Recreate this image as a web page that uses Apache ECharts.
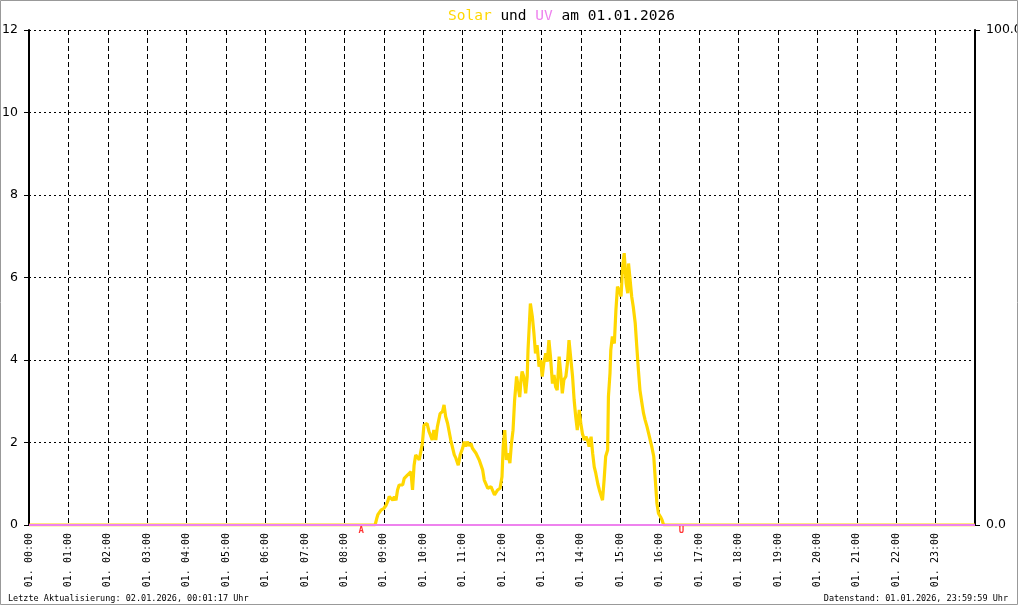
<!DOCTYPE html>
<html><head><meta charset="utf-8">
<script src="https://cdn.jsdelivr.net/npm/echarts@6/dist/echarts.min.js"></script>
<style>html,body{margin:0;padding:0;background:#fff}#c{width:1020px;height:606px}</style>
</head><body><div id="c"></div>
<script>
// ---- data ----
const hourLabels = ['01. 00:00','01. 01:00','01. 02:00','01. 03:00','01. 04:00','01. 05:00','01. 06:00','01. 07:00','01. 08:00','01. 09:00','01. 10:00','01. 11:00','01. 12:00','01. 13:00','01. 14:00','01. 15:00','01. 16:00','01. 17:00','01. 18:00','01. 19:00','01. 20:00','01. 21:00','01. 22:00','01. 23:00'];
const solarTimes = [0,8.78,8.82,8.85,8.89,8.93,9.00,9.06,9.10,9.14,9.23,9.27,9.31,9.35,9.39,9.48,9.52,9.60,9.69,9.73,9.77,9.81,9.90,9.94,9.98,
 10.02,10.10,10.15,10.23,10.27,10.32,10.36,10.43,10.49,10.53,10.57,10.62,10.66,10.70,10.75,10.79,10.83,10.89,10.94,
 11.00,11.04,11.08,11.12,11.17,11.21,11.25,11.34,11.42,11.51,11.55,11.64,11.72,11.81,11.89,11.95,12.00,
 12.03,12.07,12.11,12.15,12.20,12.24,12.28,12.32,12.37,12.41,12.45,12.48,12.51,12.55,12.60,12.64,12.66,12.69,12.72,12.77,12.81,12.85,12.89,12.94,12.98,
 13.02,13.06,13.11,13.15,13.19,13.23,13.28,13.32,13.36,13.40,13.45,13.49,13.53,13.57,13.62,13.66,13.70,13.74,13.79,13.83,13.87,13.91,13.96,
 14.00,14.04,14.09,14.13,14.17,14.21,14.26,14.30,14.34,14.38,14.43,14.47,14.51,14.55,14.59,14.63,14.68,14.70,14.74,14.76,14.80,14.85,14.89,14.93,14.97,
 15.02,15.06,15.10,15.15,15.19,15.21,15.25,15.29,15.33,15.38,15.42,15.46,15.50,15.55,15.59,15.63,15.68,15.72,15.76,15.80,15.85,15.89,15.93,15.97,
 16.02,16.06,16.10,24];
const solarValues = [0,0,0.15,0.25,0.28,0.36,0.40,0.48,0.57,0.69,0.60,0.69,0.60,0.85,0.97,0.97,1.13,1.21,1.29,0.85,1.45,1.70,1.58,1.78,1.98,
 2.42,2.46,2.26,2.06,2.30,2.06,2.38,2.70,2.75,2.91,2.63,2.46,2.26,2.06,1.86,1.70,1.62,1.45,1.70,
 1.86,2.02,1.90,2.02,1.92,1.98,1.86,1.74,1.58,1.33,1.09,0.89,0.93,0.73,0.85,0.89,1.17,
 1.90,2.30,1.58,1.74,1.50,1.98,2.30,3.03,3.60,3.35,3.10,3.50,3.72,3.60,3.19,3.60,4.24,4.80,5.37,5.05,4.65,4.16,4.36,3.84,4.00,
 3.60,3.92,4.16,3.96,4.48,4.08,3.43,3.64,3.35,3.27,4.08,3.68,3.19,3.52,3.60,3.92,4.48,4.08,3.60,3.03,2.63,2.30,2.79,
 2.46,2.22,2.06,2.14,2.06,1.90,2.14,1.74,1.41,1.25,1.00,0.85,0.81,0.60,1.09,1.66,1.82,3.11,3.68,4.24,4.57,4.40,5.21,5.78,5.70,
 5.54,6.26,6.59,5.86,5.62,6.34,5.94,5.54,5.29,4.89,4.32,3.76,3.27,2.95,2.71,2.55,2.38,2.22,2.06,1.90,1.66,1.09,0.53,0.28,
 0.20,0.12,0,0];
const uvTimes = [0, 24];
const uvValues = [0, 0];
const sunMarkTimes = [8.43, 16.55];
const sunMarkLabels = ['A', 'U'];
// ---- chart ----
const chart = echarts.init(document.getElementById('c'), null, {renderer: 'canvas'});
const mono = '"DejaVu Sans Mono", "Liberation Mono", monospace';
const sans = '"DejaVu Sans", sans-serif';
chart.setOption({
  animation: false,
  backgroundColor: '#ffffff',
  title: {
    text: '{s|Solar} und {u|UV} am 01.01.2026',
    left: 443, top: 4,
    textStyle: {
      fontFamily: mono, fontSize: 14.5, fontWeight: 'normal', color: '#000',
      rich: { s: {color: '#FFD700', fontFamily: mono, fontSize: 14.5}, u: {color: '#EE82EE', fontFamily: mono, fontSize: 14.5} }
    }
  },
  grid: {left: 29, right: 45, top: 30, bottom: 81, containLabel: false, outerBoundsMode: 'none'},
  xAxis: {
    type: 'value', min: 0, max: 24, interval: 1,
    axisLine: {show: true, lineStyle: {color: '#000', width: 1}},
    axisTick: {show: false},
    splitLine: {show: true, lineStyle: {color: '#000', type: [5, 3], width: 1}},
    axisLabel: {
      rotate: 90, margin: 8, fontFamily: mono, fontSize: 10, color: '#000',
      showMaxLabel: false,
      formatter: v => (v < hourLabels.length ? hourLabels[v] : '')
    }
  },
  yAxis: [{
    type: 'value', min: 0, max: 12, interval: 2,
    axisLine: {show: true, lineStyle: {color: '#000', width: 2}},
    axisTick: {show: true, length: 5, lineStyle: {color: '#000'}},
    splitLine: {show: true, lineStyle: {color: '#000', type: [2, 3], width: 1}},
    axisLabel: {margin: 11, fontFamily: sans, fontSize: 12.5, color: '#000'}
  }, {
    type: 'value', min: 0, max: 100, interval: 100, position: 'right',
    axisLine: {show: true, lineStyle: {color: '#000', width: 2}},
    axisTick: {show: true, length: 5, lineStyle: {color: '#000'}},
    splitLine: {show: false},
    axisLabel: {margin: 11, fontFamily: sans, fontSize: 12.5, color: '#000', formatter: v => v.toFixed(1)}
  }],
  series: [{
    name: 'Solar', type: 'line', yAxisIndex: 0, symbol: 'none', z: 3,
    lineStyle: {color: '#FFD700', width: 3.2},
    data: solarTimes.map((t, i) => [t, solarValues[i]])
  }, {
    name: 'UV', type: 'line', yAxisIndex: 1, symbol: 'none', z: 4,
    lineStyle: {color: '#EE82EE', width: 2},
    data: uvTimes.map((t, i) => [t, uvValues[i]])
  }, {
    name: 'Sonne', type: 'scatter', yAxisIndex: 0, symbolSize: 0, z: 5,
    label: {show: true, position: 'bottom', distance: 1, color: '#FF0000', fontFamily: mono, fontSize: 9, fontWeight: 'bold',
      formatter: p => sunMarkLabels[p.dataIndex]},
    data: sunMarkTimes.map(t => [t, 0])
  }],
  graphic: [
    {type: 'text', left: 8, top: 594, z: 10, style: {text: 'Letzte Aktualisierung: 02.01.2026, 00:01:17 Uhr', font: '8.5px ' + mono, fill: '#000'}},
    {type: 'text', right: 12, top: 594, z: 10, style: {text: 'Datenstand: 01.01.2026, 23:59:59 Uhr', font: '8.5px ' + mono, fill: '#000'}},
    {type: 'rect', z: 20, shape: {x: 1018, y: 0, width: 2, height: 606}, style: {fill: '#fff'}},
    {type: 'rect', z: 21, shape: {x: 0.5, y: 0.5, width: 1017, height: 604}, style: {fill: 'none', stroke: '#999', lineWidth: 1}}
  ]
});
</script>
</body></html>
